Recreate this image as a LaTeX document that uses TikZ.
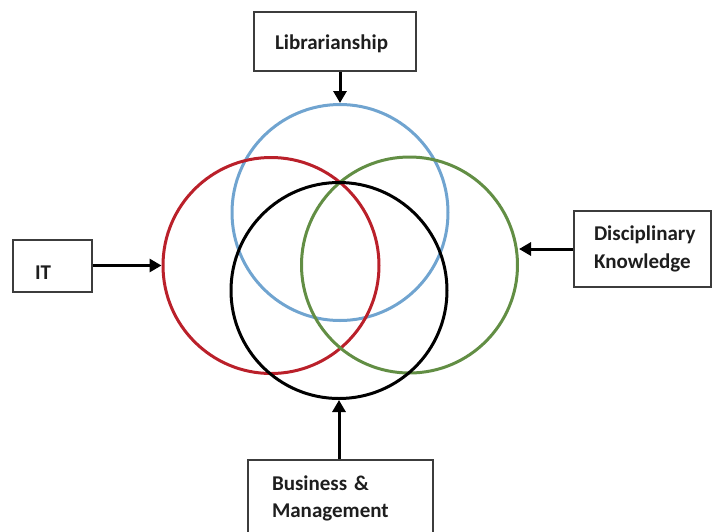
\documentclass[tikz,border=0pt]{standalone}
\usepackage{fontspec}
\setmainfont{Carlito}
\usetikzlibrary{arrows.meta}
\definecolor{ringblue}{RGB}{112,164,208}
\definecolor{ringred}{RGB}{186,32,42}
\definecolor{ringgreen}{RGB}{98,142,68}
\definecolor{boxline}{RGB}{60,60,60}
\definecolor{labeltext}{RGB}{30,30,30}
\tikzset{
  ring/.style={circle, draw, line width=3pt, minimum size=216pt, inner sep=0pt},
  labelbox/.style={draw=boxline, line width=1.8pt, fill=white, align=left,
    text=labeltext, font=\bfseries\fontsize{21}{27.5}\selectfont, inner ysep=0pt},
  feed/.style={line width=3pt, -{Triangle[length=12pt,width=13pt]}}
}
\begin{document}
\begin{tikzpicture}[x=1pt,y=-1pt]
\useasboundingbox (0,0) rectangle (713,531);

% four overlapping fields
\node[ring, draw=ringblue]  (libc) at (340,212.5) {};
\node[ring, draw=ringred]   (itc)  at (271,265.5) {};
\node[ring, draw=ringgreen] (dkc)  at (409.5,265) {};
\node[ring, draw=black]     (bmc)  at (339,290.5) {};

% labelled sources
\node[labelbox, minimum width=162pt, minimum height=59pt, text width=120pt,
      inner xsep=21pt, text height=20pt, text depth=4pt] (libbox) at (335,41.5) {Librarianship};
\node[labelbox, minimum width=79pt, minimum height=52pt, text width=35pt,
      inner xsep=22pt, text height=26pt, text depth=0pt] (itbox) at (52.5,266) {IT};
\node[labelbox, minimum width=137pt, minimum height=76pt, text width=97pt,
      inner xsep=20pt] (dkbox) at (642.5,249) {Disciplinary\\Knowledge};
\node[labelbox, minimum width=185pt, minimum height=77pt, text width=137pt,
      inner xsep=24pt] (bmbox) at (340.5,498.5) {Business \&\\Management};

% arrows into the fields
\draw[feed] (libbox.south -| libc.north) -- (libc.north);
\draw[feed] (itbox.east |- itc.west) -- (itc.west);
\draw[feed] (dkbox.west) -- (dkbox.west -| dkc.east);
\draw[feed] (bmbox.north -| bmc.south) -- (bmc.south);
\end{tikzpicture}
\end{document}
